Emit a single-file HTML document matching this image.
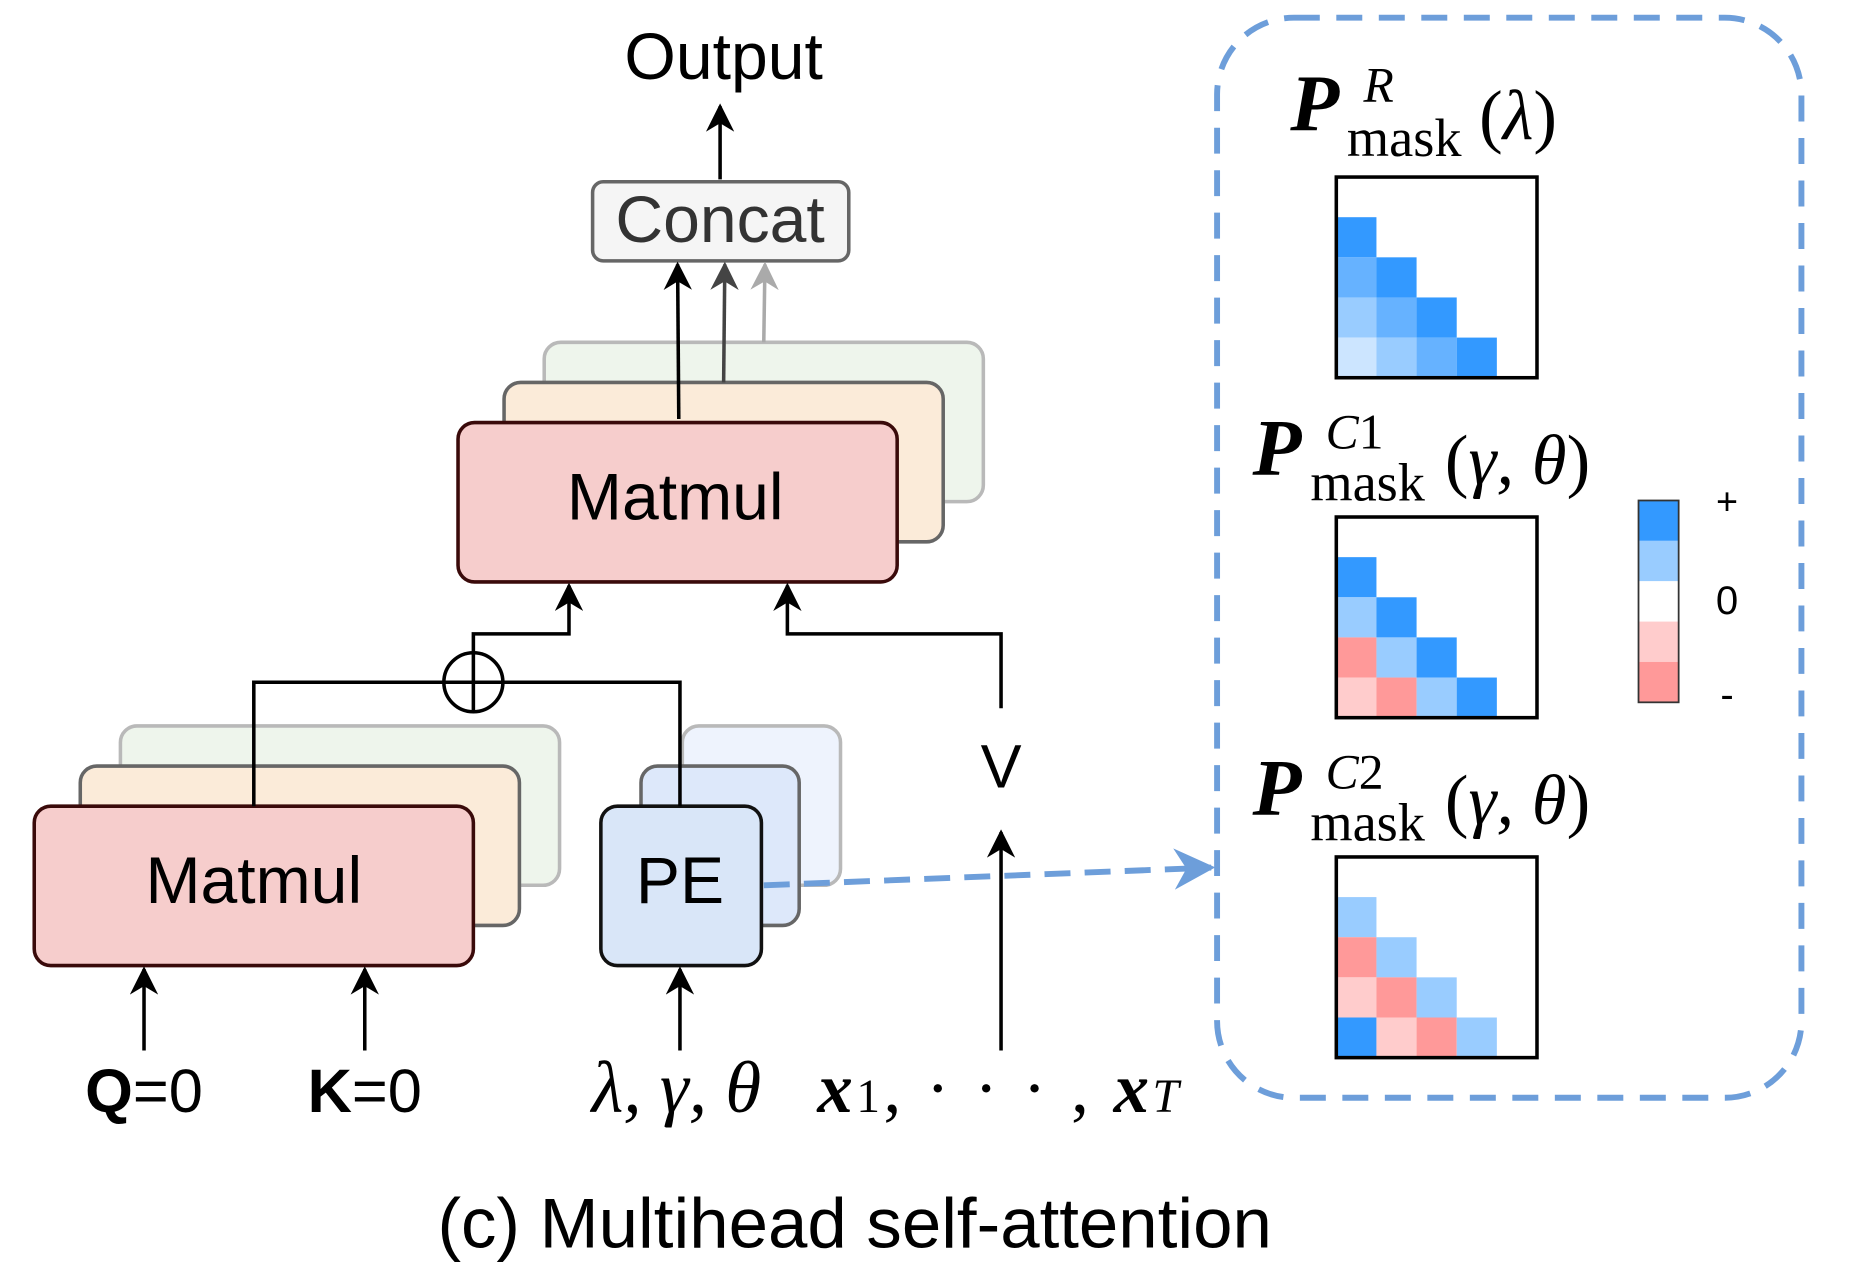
<!DOCTYPE html>
<html><head><meta charset="utf-8"><style>
html,body{margin:0;padding:0;background:#fff;}
svg{display:block;}
text{font-family:"Liberation Sans",sans-serif;}
.m{font-family:"Liberation Serif",serif;}
</style></head><body>
<svg id="fig" width="1851" height="1276" viewBox="0 0 1568 1081" preserveAspectRatio="none" xmlns="http://www.w3.org/2000/svg">
<defs>
<marker id="ar" viewBox="0 0 10 10" refX="9" refY="5" markerWidth="8" markerHeight="8" orient="auto"><path d="M0,0 L10,5 L0,10 L3,5 z" fill="#000"/></marker>
<marker id="ar2" viewBox="0 0 10 10" refX="9" refY="5" markerWidth="8" markerHeight="8" orient="auto"><path d="M0,0 L10,5 L0,10 L3,5 z" fill="#444"/></marker>
<marker id="ar3" viewBox="0 0 10 10" refX="9" refY="5" markerWidth="8" markerHeight="8" orient="auto"><path d="M0,0 L10,5 L0,10 L3,5 z" fill="#aaa"/></marker>
<marker id="arb" viewBox="0 0 10 10" refX="9" refY="5" markerWidth="7" markerHeight="7" orient="auto"><path d="M0,0 L10,5 L0,10 L3,5 z" fill="#6d9eda"/></marker>
</defs>
<rect x="461" y="290" width="372" height="135" rx="14" fill="#eef5ec" stroke="#b9b9b9" stroke-width="3"/>
<rect x="427" y="324" width="372" height="135" rx="14" fill="#fbebd9" stroke="#666" stroke-width="3"/>
<rect x="388" y="358" width="372" height="135" rx="14" fill="#f6cdcc" stroke="#3a0a0a" stroke-width="3"/>
<text x="572" y="440" font-size="56" text-anchor="middle">Matmul</text>
<rect x="502" y="154" width="217" height="67" rx="9" fill="#f5f5f5" stroke="#666" stroke-width="3"/>
<text x="610" y="205" font-size="56" text-anchor="middle" fill="#333">Concat</text>
<line x1="575" y1="355" x2="574" y2="224" stroke="#000" stroke-width="3" marker-end="url(#ar)"/>
<line x1="613" y1="324" x2="614" y2="224" stroke="#444" stroke-width="3" marker-end="url(#ar2)"/>
<line x1="647" y1="290" x2="648" y2="224" stroke="#aaa" stroke-width="3" marker-end="url(#ar3)"/>
<line x1="610" y1="152" x2="610" y2="90" stroke="#000" stroke-width="3" marker-end="url(#ar)"/>
<text x="613" y="67" font-size="56" text-anchor="middle">Output</text>
<rect x="102" y="615" width="372" height="135" rx="14" fill="#eef5ec" stroke="#b9b9b9" stroke-width="3"/>
<rect x="68" y="649" width="372" height="135" rx="14" fill="#fbebd9" stroke="#666" stroke-width="3"/>
<rect x="29" y="683" width="372" height="135" rx="14" fill="#f6cdcc" stroke="#3a0a0a" stroke-width="3"/>
<text x="215" y="765" font-size="56" text-anchor="middle">Matmul</text>
<rect x="578" y="615" width="134" height="135" rx="14" fill="#eef3fd" stroke="#b9b9b9" stroke-width="3"/>
<rect x="543" y="649" width="134" height="135" rx="14" fill="#dde8fa" stroke="#666" stroke-width="3"/>
<rect x="509" y="683" width="136" height="135" rx="14" fill="#d9e6f8" stroke="#111" stroke-width="3"/>
<text x="576" y="765" font-size="56" text-anchor="middle">PE</text>
<polyline points="215,683 215,578 576,578 576,683" fill="none" stroke="#000" stroke-width="3"/>
<circle cx="401" cy="578" r="25" fill="none" stroke="#000" stroke-width="3"/>
<line x1="376" y1="578" x2="426" y2="578" stroke="#000" stroke-width="3"/>
<line x1="401" y1="553" x2="401" y2="603" stroke="#000" stroke-width="3"/>
<polyline points="401,553 401,537 482,537 482,496" fill="none" stroke="#000" stroke-width="3" marker-end="url(#ar)"/>
<polyline points="848,600 848,537 667,537 667,496" fill="none" stroke="#000" stroke-width="3" marker-end="url(#ar)"/>
<text x="848" y="667" font-size="52" text-anchor="middle">V</text>
<line x1="848" y1="890" x2="848" y2="705" stroke="#000" stroke-width="3" marker-end="url(#ar)"/>
<line x1="122" y1="890" x2="122" y2="821" stroke="#000" stroke-width="3" marker-end="url(#ar)"/>
<line x1="309" y1="890" x2="309" y2="821" stroke="#000" stroke-width="3" marker-end="url(#ar)"/>
<line x1="576" y1="890" x2="576" y2="821" stroke="#000" stroke-width="3" marker-end="url(#ar)"/>
<text x="122" y="942" font-size="52" text-anchor="middle"><tspan font-weight="bold">Q</tspan>=0</text>
<text x="309" y="942" font-size="52" text-anchor="middle"><tspan font-weight="bold">K</tspan>=0</text>
<text class="m" x="573" y="942" font-size="62" font-style="italic" text-anchor="middle">λ, γ, θ</text>
<text class="m" x="847" y="942" font-size="60" text-anchor="middle" letter-spacing="3"><tspan font-weight="bold" font-style="italic">x</tspan><tspan font-size="40">1</tspan>, · · · , <tspan font-weight="bold" font-style="italic">x</tspan><tspan font-size="40" font-style="italic">T</tspan></text>
<text x="724" y="1057" font-size="60" text-anchor="middle">(c) Multihead self-attention</text>
<line x1="647" y1="750" x2="1026" y2="735" stroke="#6d9eda" stroke-width="5" stroke-dasharray="22,12" marker-end="url(#arb)"/>
<rect x="1031" y="15" width="495" height="915" rx="65" fill="none" stroke="#6d9eda" stroke-width="5" stroke-dasharray="22,14"/>
<text class="m" x="1093" y="110" font-size="68" font-weight="bold" font-style="italic">P</text>
<text class="m" x="1155" y="86" font-size="42" font-style="italic">R</text>
<text class="m" x="1141" y="132" font-size="46">mask</text>
<text class="m" x="1253" y="118" font-size="60">(<tspan font-style="italic">λ</tspan>)</text>
<text class="m" x="1061" y="402" font-size="68" font-weight="bold" font-style="italic">P</text>
<text class="m" x="1123" y="380" font-size="42"><tspan font-style="italic">C</tspan>1</text>
<text class="m" x="1110" y="424" font-size="46">mask</text>
<text class="m" x="1224" y="410" font-size="60">(<tspan font-style="italic">γ, θ</tspan>)</text>
<text class="m" x="1061" y="690" font-size="68" font-weight="bold" font-style="italic">P</text>
<text class="m" x="1123" y="668" font-size="42"><tspan font-style="italic">C</tspan>2</text>
<text class="m" x="1110" y="712" font-size="46">mask</text>
<text class="m" x="1224" y="698" font-size="60">(<tspan font-style="italic">γ, θ</tspan>)</text>
<g id="maps"></g>
<g id="cbar"></g>
<text x="1463" y="436" font-size="32" text-anchor="middle">+</text>
<text x="1463" y="520" font-size="34" text-anchor="middle">0</text>
<text x="1463" y="600" font-size="34" text-anchor="middle">-</text>
</svg>
<script>
const maskR = [[null,null,null,null,null],[2,null,null,null,null],[1,2,null,null,null],[0.5,1,2,null,null],[0.25,0.5,1,2,null]];
const maskC1 = [[null,null,null,null,null],[2,null,null,null,null],[0.5,2,null,null,null],[-2,0.5,2,null,null],[-1,-2,0.5,2,null]];
const maskC2 = [[null,null,null,null,null],[0.5,null,null,null,null],[-2,0.5,null,null,null],[-1,-2,0.5,null,null],[2,-1,-2,0.5,null]];
const cbarLevels = [2,0.5,0,-1,-2];
const mapTops = [150,438,726];
function color(v){
  if(v===null) return null;
  return {2:'#3399ff',1:'#66b2ff',0.5:'#99ccff',0.25:'#cce5ff',0:'#ffffff','-1':'#ffcccc','-2':'#ff9999'}[v];
}
const NS='http://www.w3.org/2000/svg';
const cell=34, left=1132;
const g=document.getElementById('maps');
[maskR,maskC1,maskC2].forEach((m,k)=>{
  const top=mapTops[k];
  m.forEach((row,i)=>row.forEach((v,j)=>{
    const c=color(v); if(!c) return;
    const r=document.createElementNS(NS,'rect');
    r.setAttribute('x',left+j*cell);r.setAttribute('y',top+i*cell);
    r.setAttribute('width',cell);r.setAttribute('height',cell);r.setAttribute('fill',c);
    
    
    g.appendChild(r);
  }));
  const b=document.createElementNS(NS,'rect');
  b.setAttribute('x',left);b.setAttribute('y',top);b.setAttribute('width',cell*5);b.setAttribute('height',cell*5);
  b.setAttribute('fill','none');b.setAttribute('stroke','#000');b.setAttribute('stroke-width','3');
  
  
  g.appendChild(b);
});
const cb=document.getElementById('cbar');
cbarLevels.forEach((v,i)=>{
  const r=document.createElementNS(NS,'rect');
  r.setAttribute('x',1388);r.setAttribute('y',424+i*34.2);r.setAttribute('width',34);r.setAttribute('height',34.2);
  r.setAttribute('fill',color(v));
  
  
  cb.appendChild(r);
});
const o=document.createElementNS(NS,'rect');
o.setAttribute('x',1388);o.setAttribute('y',424);o.setAttribute('width',34);o.setAttribute('height',171);
o.setAttribute('fill','none');o.setAttribute('stroke','#333');o.setAttribute('stroke-width','1.5');


cb.appendChild(o);
</script>
</body></html>
